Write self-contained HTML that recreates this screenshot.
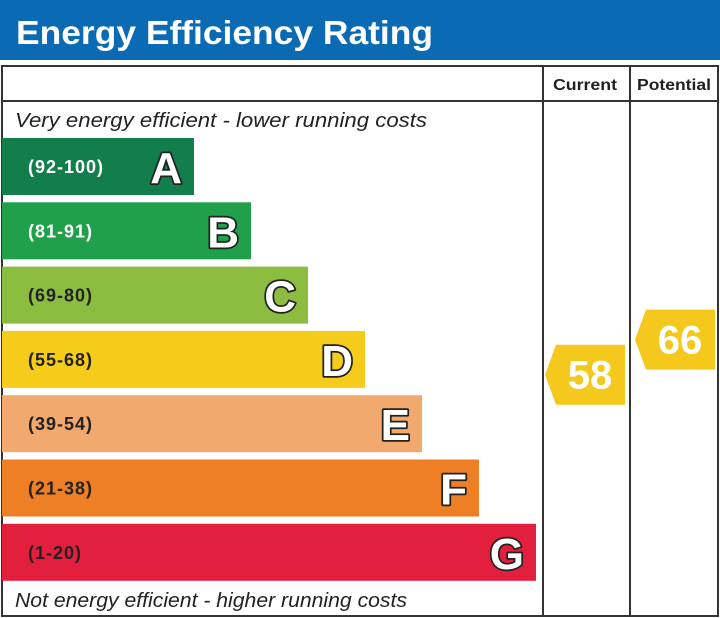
<!DOCTYPE html>
<html><head><meta charset="utf-8"><style>
html,body{margin:0;padding:0;background:#fff;}
svg{display:block;font-family:"Liberation Sans",sans-serif;}
</style></head><body>
<svg width="720" height="618" viewBox="0 0 720 618">
<rect x="0" y="0" width="720" height="60" fill="#0b6ab4"/>
<text x="16" y="44" font-size="33" font-weight="bold" fill="#fff" textLength="417" lengthAdjust="spacingAndGlyphs">Energy Efficiency Rating</text>
<rect x="2" y="66" width="716" height="550" fill="#fff" stroke="#333" stroke-width="2"/>
<line x1="2" y1="101" x2="718" y2="101" stroke="#333" stroke-width="2"/>
<line x1="543" y1="66" x2="543" y2="616" stroke="#333" stroke-width="2"/>
<line x1="630" y1="66" x2="630" y2="616" stroke="#333" stroke-width="2"/>
<text x="553" y="90" font-size="16" font-weight="bold" fill="#222" textLength="64" lengthAdjust="spacingAndGlyphs">Current</text>
<text x="637" y="90" font-size="16" font-weight="bold" fill="#222" textLength="74" lengthAdjust="spacingAndGlyphs">Potential</text>
<text x="15" y="127" font-size="20" font-style="italic" fill="#222" textLength="412" lengthAdjust="spacingAndGlyphs">Very energy efficient - lower running costs</text>
<text x="15" y="607" font-size="20" font-style="italic" fill="#222" textLength="392" lengthAdjust="spacingAndGlyphs">Not energy efficient - higher running costs</text>
<g id="bands"></g>
<g id="arrows"></g>
</svg>
<script>
const letters = ['A','B','C','D','E','F','G'];
const rangeLabels = ['(92-100)','(81-91)','(69-80)','(55-68)','(39-54)','(21-38)','(1-20)'];
const bandMin = [92,81,69,55,39,21,1];
const bandMax = [100,91,80,68,54,38,20];
const currentValue = 58;
const potentialValue = 66;
const colors = ['#117e4c','#21a04b','#8dbd40','#f6cc1a','#f2a96d','#ee7f24','#e21f3c'];
const labelColors = ['#fff','#fff','#222','#222','#222','#222','#222'];
const NS = 'http://www.w3.org/2000/svg';
const bandTop0 = 138, bandStep = 64.3, bandH = 57;
const bandX = 2, bandW0 = 192, bandWStep = 57;
function bandTop(i){return bandTop0 + i*bandStep;}
function valueY(v){
  for(let i=0;i<letters.length;i++){
    if(v>=bandMin[i] && v<=bandMax[i]){
      return bandTop(i) + (bandMax[i]-v)/(bandMax[i]-bandMin[i])*bandH;
    }
  }
  return bandTop(6)+bandH;
}
const g = document.getElementById('bands');
function mk(tag, attrs){const e=document.createElementNS(NS,tag);for(const k in attrs)e.setAttribute(k,attrs[k]);return e;}
letters.forEach((L,i)=>{
  const y=bandTop(i), w=bandW0+i*bandWStep;
  const r=mk('rect',{x:bandX,y:y,width:w,height:bandH,fill:colors[i]});
  
  
  g.appendChild(r);
  const t=mk('text',{x:28,y:y+35,'font-size':18,'font-weight':'bold','letter-spacing':1,fill:labelColors[i]});
  t.textContent=rangeLabels[i];
  
  
  g.appendChild(t);
  const lt=mk('text',{x:bandX+w-12,y:y+45,'font-size':44,'font-weight':'bold',fill:'#fff',stroke:'#222','stroke-width':3.5,'text-anchor':'end','paint-order':'stroke','stroke-linejoin':'round'});
  lt.textContent=L;
  
  
  g.appendChild(lt);
});
const ag=document.getElementById('arrows');
function arrow(v,x0,x1,name){
  const cy=valueY(v), h=60, top=cy-h/2;
  const p=mk('polygon',{points:`${x0},${cy} ${x0+11},${top} ${x1},${top} ${x1},${top+h} ${x0+11},${top+h}`,fill:'#f4c81c'});
  
  
  ag.appendChild(p);
  const t=mk('text',{x:(x0+x1)/2+5,y:cy+14,'font-size':40,'font-weight':'bold',fill:'#fff','text-anchor':'middle'});
  t.textContent=v;
  
  
  ag.appendChild(t);
}
arrow(currentValue,545,625,'current');
arrow(potentialValue,635,715,'potential');
</script>
</body></html>
